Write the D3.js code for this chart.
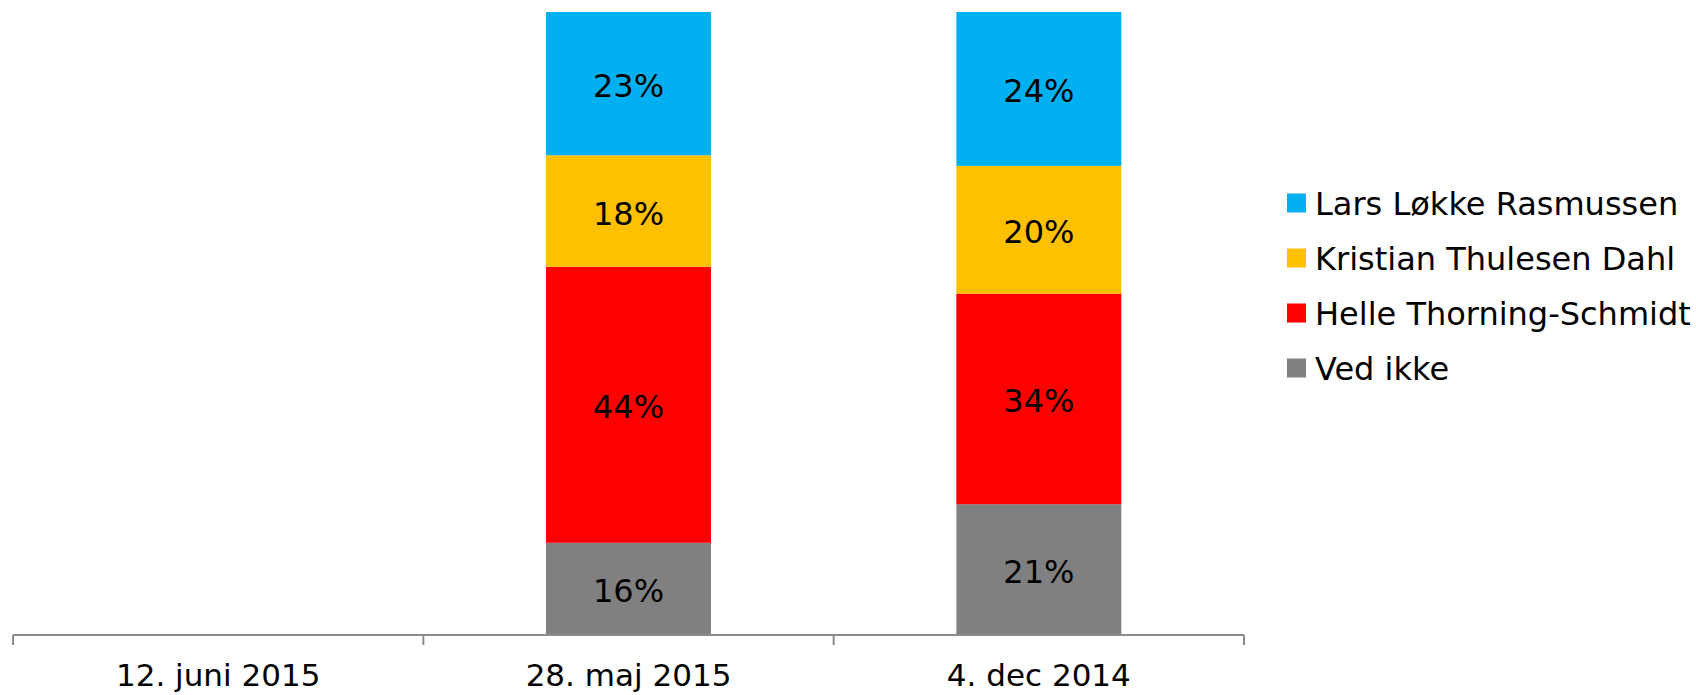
<!DOCTYPE html>
<html>
<head>
<meta charset="utf-8">
<script src="https://cdn.jsdelivr.net/npm/d3@7"></script>
<style>
  body { margin: 0; background: #fff; }
  svg { display: block; font-family: "DejaVu Sans", Verdana, sans-serif; }
</style>
</head>
<body>
<svg id="chart" width="1696" height="695"></svg>
<script>
// categories (x axis)
const dates = ['12. juni 2015', '28. maj 2015', '4. dec 2014'];

// series, bottom to top
const seriesNames = ['Ved ikke', 'Helle Thorning-Schmidt', 'Kristian Thulesen Dahl', 'Lars Løkke Rasmussen'];
const seriesColors = ['#808080', '#ff0000', '#ffc000', '#00b0f0'];

// segment shares, first date has no bar
const vedIkke = [null, 14.8, 21.0];
const helle = [null, 44.3, 33.8];
const kristian = [null, 17.9, 20.5];
const lars = [null, 23.0, 24.7];

// printed data labels
const labelVedIkke = ['', '16%', '21%'];
const labelHelle = ['', '44%', '34%'];
const labelKristian = ['', '18%', '20%'];
const labelLars = ['', '23%', '24%'];

const values = [vedIkke, helle, kristian, lars];
const labels = [labelVedIkke, labelHelle, labelKristian, labelLars];

const rows = dates.map((d, i) => {
    const row = { date: d };
    seriesNames.forEach((s, j) => { row[s] = values[j][i] || 0; });
    return row;
});

const svg = d3.select('#chart');

const x = d3.scaleBand()
    .domain(dates)
    .range([13, 1244])
    .padding(0);

const y = d3.scaleLinear()
    .domain([0, 100])
    .range([635, 12]);

const barWidth = x.bandwidth() * 0.402;

const stack = d3.stack().keys(seriesNames);
const layers = stack(rows);

const g = svg.append('g');

layers.forEach((layer, j) => {
    g.selectAll('.bar' + j)
        .data(layer.filter(d => d[1] > d[0]))
        .enter()
        .append('rect')
            .attr('x', d => x(d.data.date) + (x.bandwidth() - barWidth) / 2)
            .attr('y', d => y(d[1]))
            .attr('width', barWidth)
            .attr('height', d => y(d[0]) - y(d[1]))
            .attr('fill', seriesColors[j]);
});

// data labels
layers.forEach((layer, j) => {
    layer.forEach((d, i) => {
        if (d[1] <= d[0]) return;
        const cy = (y(d[0]) + y(d[1])) / 2;
        g.append('text')
            .attr('x', x(d.data.date) + x.bandwidth() / 2)
            .attr('y', cy + 13.5)
            .attr('text-anchor', 'middle')
            .attr('font-size', 32)
            .attr('fill', '#000')
            .text(labels[j][i]);
    });
});

// x axis: baseline, ticks at category edges, labels centered
const axisColor = '#8c8c8c';
const axis = svg.append('g');

axis.append('line')
    .attr('x1', x.range()[0])
    .attr('x2', x.range()[1])
    .attr('y1', y(0))
    .attr('y2', y(0))
    .attr('stroke', axisColor)
    .attr('stroke-width', 2);

const edges = dates.map(d => x(d)).concat([x.range()[1]]);
axis.selectAll('.tick')
    .data(edges)
    .enter()
    .append('line')
        .attr('x1', d => d)
        .attr('x2', d => d)
        .attr('y1', y(0))
        .attr('y2', y(0) + 10)
        .attr('stroke', axisColor)
        .attr('stroke-width', 2);

axis.selectAll('.label')
    .data(dates)
    .enter()
    .append('text')
        .attr('x', d => x(d) + x.bandwidth() / 2)
        .attr('y', 686)
        .attr('text-anchor', 'middle')
        .attr('font-size', 31)
        .attr('fill', '#000')
        .text(d => d);

// legend, top series first
const legendOrder = seriesNames.slice().reverse();
const legendColors = seriesColors.slice().reverse();
const legend = svg.append('g');

legendOrder.forEach((name, i) => {
    const cy = 203 + i * 55;
    legend.append('rect')
        .attr('x', 1287)
        .attr('y', cy - 9.5)
        .attr('width', 19)
        .attr('height', 19)
        .attr('fill', legendColors[i]);
    legend.append('text')
        .attr('x', 1315)
        .attr('y', cy + 12)
        .attr('font-size', 32)
        .attr('fill', '#000')
        .text(name);
});
</script>
</body>
</html>
